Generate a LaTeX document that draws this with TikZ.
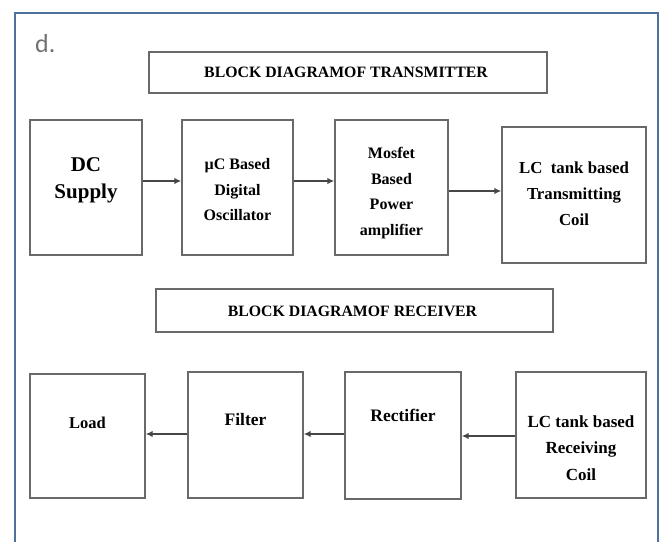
\documentclass[tikz,border=0pt]{standalone}
\usepackage{fontspec}
\setmainfont{Liberation Serif}
\newfontfamily\labelsans{Carlito}
\usetikzlibrary{arrows.meta}
\definecolor{framecol}{RGB}{79,113,160}
\definecolor{boxcol}{RGB}{105,105,105}
\definecolor{arrcol}{RGB}{70,70,70}
\tikzset{
  block/.style={draw=boxcol, line width=1.4pt, fill=white, inner sep=0pt},
  titlebox/.style={block, minimum height=41pt},
  blocktext/.style={align=center, inner sep=0pt, font=\bfseries\fontsize{16}{25.5}\selectfont},
  bigtext/.style={align=center, inner sep=0pt, font=\bfseries\fontsize{21}{27}\selectfont},
  titletext/.style={inner sep=0pt, font=\bfseries\fontsize{15.8}{19}\selectfont},
  flow/.style={draw=arrcol, line width=1.5pt, -{Latex[length=7pt,width=6.5pt]}},
}
\begin{document}
\begin{tikzpicture}[x=1pt,y=-1pt]
\useasboundingbox (0,0) rectangle (660,541);
\fill[white] (0,0) rectangle (660,541);

% outer frame, open at the bottom
\draw[framecol, line width=2.4pt] (15,545) -- (15,13) -- (658,13) -- (658,545);
\node[anchor=north west, inner sep=0pt, text=black!55, font=\labelsans\fontsize{26}{30}\selectfont] (tag) at (35,34) {d.};

% transmitter
\node[titlebox, minimum width=398pt] (ttitle) at (348,72.5) {};
\node[titletext] (ttitletxt) at (346,72.5) {BLOCK DIAGRAMOF TRANSMITTER};

\node[block, minimum width=112pt, minimum height=135pt] (dc) at (86,187.5) {};
\node[bigtext] (dctxt) at (86,180) {DC\\Supply};

\node[block, minimum width=111pt, minimum height=135pt] (osc) at (237.5,187.5) {};
\node[blocktext] (osctxt) at (237.5,190) {µC Based\\Digital\\Oscillator};

\node[block, minimum width=113pt, minimum height=135pt] (amp) at (391.5,187.5) {};
\node[blocktext] (amptxt) at (391.5,193) {Mosfet\\Based\\Power\\amplifier};

\node[block, minimum width=144pt, minimum height=136pt] (tcoil) at (574,195) {};
\node[blocktext, font=\bfseries\fontsize{16.8}{26}\selectfont] (tcoiltxt) at (574,194) {LC\ \ tank based\\Transmitting\\Coil};

\draw[flow] ([yshift=6.5pt]dc.east) -- ([yshift=6.5pt]osc.west);
\draw[flow] ([yshift=6.5pt]osc.east) -- ([yshift=6.5pt]amp.west);
\draw[flow] ([yshift=-3.5pt]amp.east) -- ([yshift=4pt]tcoil.west);

% receiver
\node[titlebox, minimum width=397pt, minimum height=43pt] (rtitle) at (354.5,310.5) {};
\node[titletext] (rtitletxt) at (352.5,311) {BLOCK DIAGRAMOF RECEIVER};

\node[block, minimum width=115pt, minimum height=124pt] (load) at (87.5,436) {};
\node[blocktext, font=\bfseries\fontsize{16.5}{25}\selectfont] (loadtxt) at (87.5,423) {Load};

\node[block, minimum width=115pt, minimum height=126pt] (filt) at (245.5,435) {};
\node[blocktext, font=\bfseries\fontsize{17.5}{25}\selectfont] (filttxt) at (245.5,420) {Filter};

\node[block, minimum width=116pt, minimum height=127pt] (rect) at (403,435.5) {};
\node[blocktext, font=\bfseries\fontsize{17.5}{25}\selectfont] (recttxt) at (403,415) {Rectifier};

\node[block, minimum width=130pt, minimum height=126pt] (rcoil) at (581,435) {};
\node[blocktext, font=\bfseries\fontsize{17}{26.5}\selectfont] (rcoiltxt) at (581,448) {LC tank based\\Receiving\\Coil};

\draw[flow] ([yshift=-1pt]rcoil.west) -- ([yshift=-0.5pt]rect.east);
\draw[flow] ([yshift=1.5pt]rect.west) -- ([yshift=1pt]filt.east);
\draw[flow] ([yshift=1pt]filt.west) -- ([yshift=2pt]load.east);
\end{tikzpicture}
\end{document}
